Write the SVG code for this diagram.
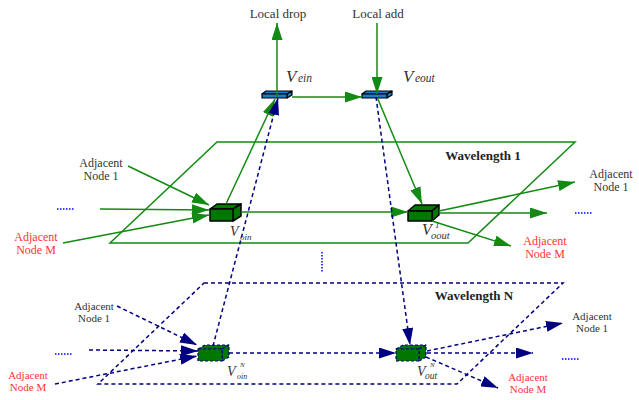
<svg xmlns="http://www.w3.org/2000/svg" width="639" height="400" viewBox="0 0 639 400">
<style>
.lbl{font-family:"Liberation Serif","Times New Roman",serif;fill:#333333;text-anchor:middle}
.red{fill:#ff3333}
.p1{font-size:12px}
.pn{font-size:11px}
.wl{font-family:"Liberation Serif","Times New Roman",serif;font-weight:bold;font-size:13px;fill:#222222;text-anchor:middle}
.vi{font-family:"Liberation Serif","Times New Roman",serif;font-style:italic;fill:#333333}
.g{stroke:#138a13;stroke-width:1.5;fill:none}
.n{stroke:#000080;stroke-width:1.5;fill:none;stroke-dasharray:4,3}
.dots{stroke:#0000ff;stroke-width:1.5;stroke-dasharray:1.5,1.5;fill:none}
.bb{fill:#1a7cc4;stroke:#000000;stroke-width:1.2;stroke-linejoin:round}
.gb{fill:#007800;stroke:#000000;stroke-width:1.5;stroke-linejoin:round}
.gbn{fill:#007800;stroke:#000080;stroke-width:1.2;stroke-dasharray:3,2;stroke-linejoin:round}
</style>
<defs>
<marker id="ag" viewBox="0 0 17 11" markerWidth="17" markerHeight="11" refX="17" refY="5.5" orient="auto" markerUnits="userSpaceOnUse"><path d="M0,0 L17,5.5 L0,11 z" fill="#138a13" stroke="none"/></marker>
<marker id="an" viewBox="0 0 17 11" markerWidth="17" markerHeight="11" refX="17" refY="5.5" orient="auto" markerUnits="userSpaceOnUse"><path d="M0,0 L17,5.5 L0,11 z" fill="#000080" stroke="none"/></marker>
</defs>

<g id="planes">
<polygon id="wavelength1-plane" class="g" points="217,142 575,142 468,243 110,243"/>
<polygon id="wavelengthN-plane" class="n" points="204,283 563,283 457,384 98,384"/>
</g>

<g id="labels">
<text class="lbl" x="278" y="17.5" font-size="13">Local drop</text>
<text class="lbl" x="378" y="17.5" font-size="13">Local add</text>
<text class="wl" x="483" y="160">Wavelength 1</text>
<text class="wl" x="474" y="300">Wavelength N</text>
<text class="lbl p1" x="101" y="167">Adjacent</text>
<text class="lbl p1" x="101" y="180">Node 1</text>
<text class="lbl p1 red" x="36" y="241">Adjacent</text>
<text class="lbl p1 red" x="36" y="254">Node M</text>
<text class="lbl p1" x="611" y="178">Adjacent</text>
<text class="lbl p1" x="611" y="191">Node 1</text>
<text class="lbl p1 red" x="545" y="245">Adjacent</text>
<text class="lbl p1 red" x="545" y="258">Node M</text>
<text class="lbl pn" x="94" y="310">Adjacent</text>
<text class="lbl pn" x="94" y="322">Node 1</text>
<text class="lbl pn red" x="28" y="379">Adjacent</text>
<text class="lbl pn red" x="28" y="391">Node M</text>
<text class="lbl pn" x="592" y="320">Adjacent</text>
<text class="lbl pn" x="592" y="332">Node 1</text>
<text class="lbl pn red" x="528" y="380.5">Adjacent</text>
<text class="lbl pn red" x="528" y="392.5">Node M</text>
</g>

<g id="dots">
<line class="dots" x1="57" y1="209" x2="75" y2="209"/>
<line class="dots" x1="575" y1="213" x2="593" y2="213"/>
<line class="dots" x1="322" y1="252" x2="322" y2="272"/>
<line class="dots" x1="55" y1="354" x2="73" y2="354"/>
<line class="dots" x1="562" y1="359" x2="579" y2="359"/>
</g>

<g id="node-vein">
<path class="bb" d="M262,94 L266,91 L292,91 L287,94 Z"/>
<path class="bb" d="M287,94 L292,91 L292,95 L287,98 Z"/>
<rect class="bb" x="262" y="94" width="25" height="4"/>
<text class="vi" x="286" y="82" font-size="17">V</text>
<text class="vi" x="298" y="82" font-size="11.5">ein</text>
</g>

<g id="node-veout">
<path class="bb" d="M362,94 L366,91 L392,91 L387,94 Z"/>
<path class="bb" d="M387,94 L392,91 L392,95 L387,98 Z"/>
<rect class="bb" x="362" y="94" width="25" height="4"/>
<text class="vi" x="403" y="82" font-size="17">V</text>
<text class="vi" x="415" y="82" font-size="11.5">eout</text>
</g>

<g id="node-v1in">
<path class="gb" d="M210,209 L217,204 L241,204 L233,209 Z"/>
<path class="gb" d="M233,209 L241,204 L241,216 L233,221 Z"/>
<rect class="gb" x="210" y="209" width="23" height="12"/>
<text class="vi" x="230" y="236" font-size="14">V</text>
<text class="vi" x="240" y="240" font-size="9">oin</text>
</g>

<g id="node-v1out">
<path class="gb" d="M408,211 L415,205 L439,205 L432,211 Z"/>
<path class="gb" d="M432,211 L439,205 L439,215 L432,221 Z"/>
<rect class="gb" x="408" y="211" width="24" height="10"/>
<text class="vi" x="422" y="235" font-size="16">V</text>
<text class="vi" x="435" y="228" font-size="9">1</text>
<text class="vi" x="431" y="238.5" font-size="10.5">oout</text>
</g>

<g id="node-vNin">
<path class="gbn" d="M198,349 L205,345 L229,345 L222,349 Z"/>
<path class="gbn" d="M222,349 L229,345 L229,357 L222,361 Z"/>
<rect class="gbn" x="198" y="349" width="24" height="12"/>
<text class="vi" x="227" y="376" font-size="14">V</text>
<text class="vi" x="240" y="367" font-size="7">N</text>
<text class="vi" x="237" y="378.5" font-size="8">oin</text>
</g>

<g id="node-vNout">
<path class="gbn" d="M396,349 L403,345 L426,345 L419,349 Z"/>
<path class="gbn" d="M419,349 L426,345 L426,357 L419,361 Z"/>
<rect class="gbn" x="396" y="349" width="23" height="12"/>
<text class="vi" x="417" y="376" font-size="14">V</text>
<text class="vi" x="430" y="367" font-size="7">N</text>
<text class="vi" x="425" y="378.5" font-size="9.5">out</text>
</g>

<g id="connectors">
<line class="g" x1="277" y1="97" x2="277" y2="23" marker-end="url(#ag)"/>
<line class="g" x1="377" y1="23" x2="377" y2="94" marker-end="url(#ag)"/>
<line class="g" x1="292" y1="97" x2="362" y2="97" marker-end="url(#ag)"/>
<line class="g" x1="128" y1="166" x2="209" y2="205" marker-end="url(#ag)"/>
<line class="g" x1="100" y1="209" x2="209" y2="210" marker-end="url(#ag)"/>
<line class="g" x1="63" y1="243" x2="209" y2="215" marker-end="url(#ag)"/>
<line class="g" x1="226" y1="204" x2="275" y2="99" marker-end="url(#ag)"/>
<line class="g" x1="241" y1="212" x2="408" y2="212" marker-end="url(#ag)"/>
<line class="g" x1="377" y1="97" x2="422" y2="204" marker-end="url(#ag)"/>
<line class="g" x1="439" y1="211" x2="575" y2="182" marker-end="url(#ag)"/>
<line class="g" x1="439" y1="213" x2="547" y2="213" marker-end="url(#ag)"/>
<line class="g" x1="432" y1="221" x2="511" y2="246" marker-end="url(#ag)"/>
<line class="n" x1="213" y1="346" x2="278" y2="98" marker-end="url(#an)"/>
<line class="n" x1="376" y1="97" x2="410" y2="345" marker-end="url(#an)"/>
<line class="n" x1="117" y1="306" x2="197" y2="345" marker-end="url(#an)"/>
<line class="n" x1="89" y1="350" x2="198" y2="351" marker-end="url(#an)"/>
<line class="n" x1="55" y1="384" x2="197" y2="356" marker-end="url(#an)"/>
<line class="n" x1="229" y1="353" x2="396" y2="353" marker-end="url(#an)"/>
<line class="n" x1="427" y1="351" x2="563" y2="323" marker-end="url(#an)"/>
<line class="n" x1="427" y1="353" x2="533" y2="353" marker-end="url(#an)"/>
<line class="n" x1="426" y1="357" x2="498" y2="388" marker-end="url(#an)"/>
</g>
</svg>
